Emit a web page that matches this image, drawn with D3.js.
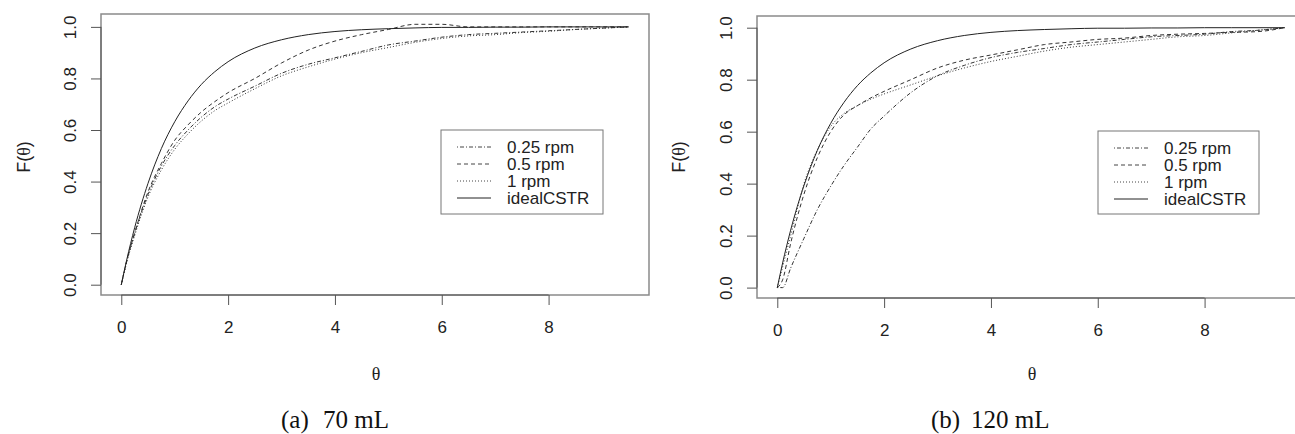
<!DOCTYPE html>
<html>
<head>
<meta charset="utf-8">
<script src="https://cdn.jsdelivr.net/npm/d3@7"></script>
<style>
	body { margin: 0; background: #fff; }
	svg { display: block; }
	text { font-family: 'Liberation Sans', Arial, Helvetica, sans-serif; fill: #222; }
</style>
</head>
<body>
<div class="chart"></div>
<script>
// F(theta) curves
const thetaGrid = [0, 0.1, 0.25, 0.5, 0.75, 1, 1.25, 1.5, 1.75, 2, 2.5, 3, 3.5, 4, 4.5, 5, 5.5, 6, 6.5, 7, 7.5, 8, 8.5, 9, 9.5];

const idealCSTR = [0, 0.095, 0.221, 0.393, 0.528, 0.632, 0.713, 0.777, 0.826, 0.865, 0.918, 0.95, 0.97, 0.982, 0.989, 0.993, 0.996, 0.998, 0.998, 0.999, 0.999, 1, 1, 1, 1];

// (a) 70 mL
const a_rpm025 = [0, 0.09, 0.2, 0.35, 0.46, 0.54, 0.6, 0.65, 0.69, 0.72, 0.77, 0.82, 0.855, 0.88, 0.905, 0.93, 0.945, 0.96, 0.97, 0.975, 0.98, 0.985, 0.99, 0.995, 1];
const a_rpm05 = [0, 0.09, 0.2, 0.36, 0.47, 0.56, 0.62, 0.67, 0.71, 0.745, 0.8, 0.86, 0.91, 0.945, 0.97, 0.99, 1.01, 1.01, 1, 1, 1, 1, 1, 1, 1];
const a_rpm1 = [0, 0.085, 0.19, 0.34, 0.445, 0.525, 0.585, 0.635, 0.675, 0.705, 0.76, 0.81, 0.845, 0.875, 0.9, 0.92, 0.94, 0.955, 0.965, 0.97, 0.978, 0.983, 0.99, 0.995, 1];

// (b) 120 mL
const b_rpm025 = [0, 0, 0.075, 0.19, 0.3, 0.39, 0.47, 0.54, 0.61, 0.66, 0.75, 0.815, 0.855, 0.885, 0.905, 0.92, 0.935, 0.945, 0.955, 0.965, 0.97, 0.975, 0.985, 0.99, 1];
const b_rpm05 = [0, 0.03, 0.17, 0.36, 0.5, 0.6, 0.665, 0.7, 0.73, 0.755, 0.8, 0.845, 0.875, 0.895, 0.915, 0.935, 0.945, 0.955, 0.96, 0.97, 0.975, 0.978, 0.982, 0.985, 1];
const b_rpm1 = [0, 0.08, 0.2, 0.4, 0.53, 0.62, 0.67, 0.7, 0.725, 0.745, 0.78, 0.815, 0.845, 0.87, 0.89, 0.91, 0.925, 0.935, 0.945, 0.955, 0.965, 0.97, 0.98, 0.99, 1];

const legendLabels = ['0.25 rpm', '0.5 rpm', '1 rpm', 'idealCSTR'];
const xTicks = [0, 2, 4, 6, 8];
const yTicks = [0, 0.2, 0.4, 0.6, 0.8, 1.0];

// line types in legend order: dotdash, dashed, dotted, solid
const dashes = ['1,2,4,2', '4,3', '1,2', null];

const panels = [
	{
		series: [a_rpm025, a_rpm05, a_rpm1, idealCSTR],
		caption: ['(a)', '70 mL'],
		left: 101, right: 649, top: 14, bottom: 295,
		yDomain: [-0.04, 1.05],
		legend: { x: 441, y: 130, w: 162, h: 84 },
		capX: [281, 323],
		xLabelX: 376,
		yLabelX: 24
	},
	{
		series: [b_rpm025, b_rpm05, b_rpm1, idealCSTR],
		caption: ['(b)', '120 mL'],
		left: 757, right: 1305, top: 16, bottom: 298,
		yDomain: [-0.04, 1.045],
		legend: { x: 1098, y: 131, w: 161, h: 83 },
		capX: [931, 971],
		xLabelX: 1032,
		yLabelX: 679
	}
];

const svg = d3.select('.chart')
	.append('svg')
		.attr('width', 1295)
		.attr('height', 434);

panels.forEach(p => drawPanel(p));

function drawPanel(p) {
	const xScale = d3.scaleLinear()
		.domain([-0.38, 9.88])
		.range([p.left, p.right]);

	const yScale = d3.scaleLinear()
		.domain(p.yDomain)
		.range([p.bottom, p.top]);

	const g = svg.append('g');

	// plot box
	g.append('rect')
		.attr('x', p.left)
		.attr('y', p.top)
		.attr('width', p.right - p.left)
		.attr('height', p.bottom - p.top)
		.style('fill', 'none')
		.style('stroke', '#8a8a8a')
		.style('stroke-width', 1.5);

	// curves
	const drawLine = d3.line()
		.x((d, i) => xScale(thetaGrid[i]))
		.y(d => yScale(d))
		.curve(d3.curveMonotoneX);

	g.selectAll('.line')
		.data(p.series)
		.enter()
		.append('path')
		.attr('class', 'line')
		.attr('d', d => drawLine(d))
		.style('fill', 'none')
		.style('stroke', (d, i) => i === 3 ? '#222' : '#333')
		.style('stroke-width', 1)
		.style('stroke-dasharray', (d, i) => dashes[i]);

	// x-axis (R style: line only spans the ticks)
	const xAxis = g.append('g')
		.attr('transform', `translate(0, ${p.bottom})`)
		.call(d3.axisBottom(xScale)
			.tickValues(xTicks)
			.tickSize(10)
			.tickPadding(16)
			.tickFormat(d3.format('d')));
	xAxis.select('.domain').remove();
	xAxis.append('line')
		.attr('x1', xScale(xTicks[0]))
		.attr('x2', xScale(xTicks[xTicks.length - 1]))
		.style('stroke', '#555');
	xAxis.selectAll('.tick line').style('stroke', '#555');
	xAxis.selectAll('text')
		.style('font-size', '17px')
		.style('font-family', "'Liberation Sans', Arial, sans-serif")
		.style('fill', '#222');

	// y-axis, labels turned like R's las=0
	const yAxis = g.append('g')
		.attr('transform', `translate(${p.left}, 0)`)
		.call(d3.axisLeft(yScale)
			.tickValues(yTicks)
			.tickSize(10)
			.tickFormat(d3.format('.1f')));
	yAxis.select('.domain').remove();
	yAxis.append('line')
		.attr('y1', yScale(yTicks[0]))
		.attr('y2', yScale(yTicks[yTicks.length - 1]))
		.style('stroke', '#555');
	yAxis.selectAll('.tick line').style('stroke', '#555');
	yAxis.selectAll('text')
		.attr('transform', 'rotate(-90)')
		.attr('x', 0)
		.attr('y', -31)
		.attr('dy', null)
		.attr('text-anchor', 'middle')
		.attr('dominant-baseline', 'central')
		.style('font-size', '17px')
		.style('font-family', "'Liberation Sans', Arial, sans-serif")
		.style('fill', '#222');

	// axis titles
	g.append('text')
		.attr('x', p.xLabelX)
		.attr('y', 380)
		.attr('text-anchor', 'middle')
		.style('font-family', "'Liberation Serif', serif")
		.style('font-size', '18px')
		.text('θ');

	const yTitle = g.append('text')
		.attr('transform', `translate(${p.yLabelX}, 157) rotate(-90)`)
		.attr('text-anchor', 'middle')
		.attr('dominant-baseline', 'central')
		.style('font-size', '18px');
	yTitle.append('tspan').text('F(');
	yTitle.append('tspan').style('font-family', "'Liberation Serif', serif").text('θ');
	yTitle.append('tspan').text(')');

	// legend
	const lg = p.legend;
	g.append('rect')
		.attr('x', lg.x)
		.attr('y', lg.y)
		.attr('width', lg.w)
		.attr('height', lg.h)
		.style('fill', '#fff')
		.style('stroke', '#777')
		.style('stroke-width', 1);

	const rows = g.selectAll('.legend-row')
		.data(legendLabels)
		.enter()
		.append('g')
		.attr('class', 'legend-row')
		.attr('transform', (d, i) => `translate(${lg.x}, ${lg.y + 17 + i * 17})`);

	rows.append('line')
		.attr('x1', 16)
		.attr('x2', 50)
		.style('stroke', (d, i) => i === 3 ? '#222' : '#444')
		.style('stroke-width', 1)
		.style('stroke-dasharray', (d, i) => dashes[i]);

	rows.append('text')
		.attr('x', 66)
		.attr('dominant-baseline', 'central')
		.style('font-size', '17px')
		.text(d => d);

	// caption under the panel
	g.selectAll('.caption')
		.data(p.caption)
		.enter()
		.append('text')
		.attr('class', 'caption')
		.attr('x', (d, i) => p.capX[i])
		.attr('y', 428)
		.style('font-family', "'Liberation Serif', 'Times New Roman', serif")
		.style('font-size', '25px')
		.style('fill', '#111')
		.text(d => d);
}
</script>
</body>
</html>
